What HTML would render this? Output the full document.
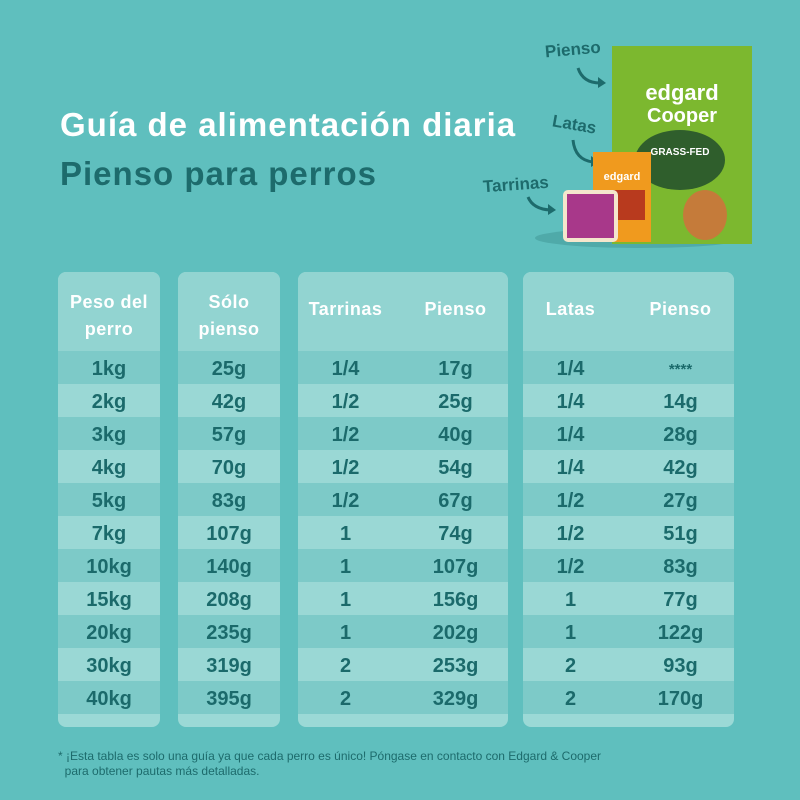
<!DOCTYPE html>
<html><head><meta charset="utf-8"><style>
body{margin:0;width:800px;height:800px;background:#5fbfbe;position:relative;overflow:hidden;font-family:"Liberation Sans",sans-serif}
.t{position:absolute;font-weight:bold;white-space:nowrap}
.panel{position:absolute;top:272px;height:455px;background:#9bd9d6;border-radius:8px;overflow:hidden}
.hdr{position:absolute;left:0;right:0;top:0;height:79px;background:#92d4d1}
.row{position:absolute;left:0;right:0;height:33px}
.d{background:#7dcac8}.l{background:#9ad8d5}
.c{position:absolute;top:0;height:33px;line-height:33px;text-align:center;color:#1b6a6b;font-size:20px;font-weight:bold}
.h{position:absolute;color:#fff;font-size:18px;font-weight:bold;text-align:center;letter-spacing:.5px;line-height:27px}
</style></head><body>
<div class="t" style="left:60px;top:106px;font-size:33px;color:#fff;letter-spacing:1px">Guía de alimentación diaria</div>
<div class="t" style="left:60px;top:155px;font-size:33px;color:#1d6b6c;letter-spacing:1px">Pienso para perros</div>

<div class="t" style="left:545px;top:40px;font-size:17px;color:#1d6b6c;transform:rotate(-5deg)">Pienso</div>
<div class="t" style="left:552px;top:115px;font-size:17px;color:#1d6b6c;transform:rotate(10deg)">Latas</div>
<div class="t" style="left:483px;top:175px;font-size:17px;color:#1d6b6c;transform:rotate(-4deg)">Tarrinas</div>
<svg style="position:absolute;left:0;top:0" width="800" height="800">
<g stroke="#1d6b6c" stroke-width="3" fill="none"><path d="M578 68 q5 15 22 15"/><path d="M573 140 q2 20 20 22"/><path d="M528 197 q5 12 22 13"/></g>
<g fill="#1d6b6c"><path d="M598 77 l8 6 -8 5z"/><path d="M591 156 l8 6 -8 5z"/><path d="M548 204 l8 6 -8 5z"/></g>
<ellipse cx="640" cy="238" rx="105" ry="10" fill="#4faaa9"/>
<rect x="612" y="46" width="140" height="198" fill="#7cb82f"/>
<text x="682" y="100" font-size="22" fill="#fff" text-anchor="middle" font-family="Liberation Sans" font-weight="bold">edgard</text>
<text x="682" y="122" font-size="20" fill="#fff" text-anchor="middle" font-family="Liberation Sans" font-weight="bold">Cooper</text>
<ellipse cx="680" cy="160" rx="45" ry="30" fill="#2f5e2c"/>
<text x="680" y="155" font-size="10" fill="#fff" text-anchor="middle" font-family="Liberation Sans" font-weight="bold">GRASS-FED</text>
<ellipse cx="705" cy="215" rx="22" ry="25" fill="#c57b3a"/>
<rect x="593" y="152" width="58" height="90" fill="#f09a1e"/>
<text x="622" y="180" font-size="11" fill="#fff" text-anchor="middle" font-family="Liberation Sans" font-weight="bold">edgard</text>
<rect x="600" y="190" width="45" height="30" fill="#b83a1e"/>
<rect x="563" y="190" width="55" height="52" rx="5" fill="#f4e6cc"/>
<rect x="567" y="194" width="47" height="44" fill="#a8388a"/>
</svg>

<div class="panel" style="left:58px;width:102px"><div class="hdr"></div>
<div class="h" style="left:0;right:0;top:17px">Peso del<br>perro</div></div>
<div class="panel" style="left:178px;width:102px"><div class="hdr"></div>
<div class="h" style="left:0;right:0;top:17px">Sólo<br>pienso</div></div>
<div class="panel" style="left:298px;width:210px"><div class="hdr"></div>
<div class="h" style="left:0;width:95px;top:24px">Tarrinas</div><div class="h" style="left:105px;width:105px;top:24px">Pienso</div></div>
<div class="panel" style="left:523px;width:211px"><div class="hdr"></div>
<div class="h" style="left:0;width:95px;top:24px">Latas</div><div class="h" style="left:105px;width:105px;top:24px">Pienso</div></div>

<div id="rows"></div>
<script>
var data=[["1kg","25g","1/4","17g","1/4","****"],["2kg","42g","1/2","25g","1/4","14g"],["3kg","57g","1/2","40g","1/4","28g"],["4kg","70g","1/2","54g","1/4","42g"],["5kg","83g","1/2","67g","1/2","27g"],["7kg","107g","1","74g","1/2","51g"],["10kg","140g","1","107g","1/2","83g"],["15kg","208g","1","156g","1","77g"],["20kg","235g","1","202g","1","122g"],["30kg","319g","2","253g","2","93g"],["40kg","395g","2","329g","2","170g"]];
var panels=[[58,102],[178,102],[298,210],[523,211]];
var cols=[[58,102],[178,102],[298,95],[403,105],[523,95],[628,105]];
var h="";
data.forEach(function(r,i){var y=351+i*33;var cl=i%2?"l":"d";
panels.forEach(function(p){h+='<div class="row '+cl+'" style="left:'+p[0]+'px;width:'+p[1]+'px;top:'+y+'px"></div>';});
r.forEach(function(v,j){h+='<div class="c" style="left:'+cols[j][0]+'px;width:'+cols[j][1]+'px;top:'+(y+2)+'px'+(v=="****"?';font-size:15px':'')+'">'+v+'</div>';});});
document.getElementById("rows").innerHTML=h;
</script>
<div style="position:absolute;left:58px;top:749px;font-family:'Liberation Sans',sans-serif;font-size:12px;color:#1d6b6c;line-height:15px">* ¡Esta tabla es solo una guía ya que cada perro es único! Póngase en contacto con Edgard &amp; Cooper<br>&nbsp;&nbsp;para obtener pautas más detalladas.</div>
</body></html>
